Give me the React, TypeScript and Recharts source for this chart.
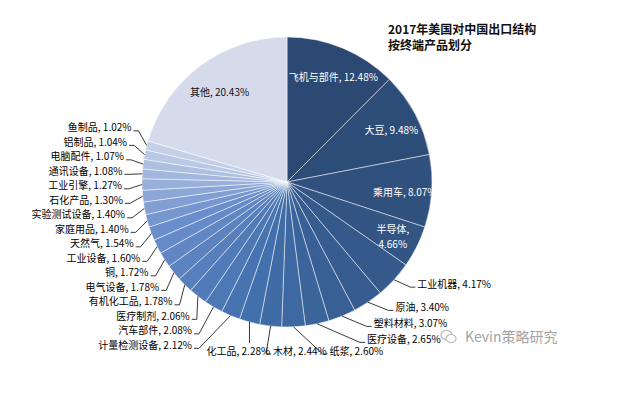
import { PieChart, Pie, Cell } from 'recharts'

const names = [
  '飞机与部件', '大豆', '乘用车', '半导体', '工业机器', '原油', '塑料材料', '医疗设备',
  '纸浆', '木材', '化工品', '计量检测设备', '汽车部件', '医疗制剂', '有机化工品', '电气设备',
  '铜', '工业设备', '天然气', '家庭用品', '实验测试设备', '石化产品', '工业引擎', '通讯设备',
  '电脑配件', '铝制品', '鱼制品', '其他',
]
const shares = [
  12.48, 9.48, 8.07, 4.66, 4.17, 3.4, 3.07, 2.65,
  2.6, 2.44, 2.28, 2.12, 2.08, 2.06, 1.78, 1.78,
  1.72, 1.6, 1.54, 1.4, 1.4, 1.3, 1.27, 1.08,
  1.07, 1.04, 1.02, 20.43,
]
const titleLines = ['2017年美国对中国出口结构', '按终端产品划分']
const watermark = 'Kevin策略研究'

const W = 637
const H = 399
const CX = 287
const CY = 182
const R = 145
const RAD = Math.PI / 180
const FONT = '"Noto Sans CJK SC", "Noto Sans", sans-serif'

const data = names.map((name, i) => ({ name, value: shares[i] }))

// slice colours: dark navy -> light steel blue, "其他" pale
const stops: [number, number[]][] = [
  [0, [43, 73, 115]],
  [10, [66, 112, 172]],
  [18, [106, 142, 203]],
  [26, [196, 208, 232]],
]
const colorAt = (i: number) => {
  if (i === names.length - 1) return 'rgb(213,219,234)'
  for (let k = 0; k < stops.length - 1; k++) {
    const [i0, c0] = stops[k]
    const [i1, c1] = stops[k + 1]
    if (i <= i1) {
      const t = (i - i0) / (i1 - i0)
      const c = c0.map((v, j) => Math.round(v + (c1[j] - v) * t))
      return `rgb(${c.join(',')})`
    }
  }
  return 'rgb(196,208,232)'
}

// label layout (angles clockwise from 12 o'clock)
const total = shares.reduce((a, b) => a + b, 0)
const mids: number[] = []
let acc = 0
shares.forEach((v) => {
  mids.push(((acc + v / 2) / total) * 360)
  acc += v
})
const pt = (a: number, r: number) => [CX + r * Math.sin(a * RAD), CY - r * Math.cos(a * RAD)]
const labelText = (i: number) => `${names[i]}, ${shares[i].toFixed(2)}%`
const textW = (s: string) =>
  [...s].reduce(
    (w, c) => w + (/[\u4e00-\u9fff]/.test(c) ? 10 : c === '%' ? 8.3 : /[0-9]/.test(c) ? 5.6 : 2.8),
    0,
  )

type Spot = {
  x: number
  y: number
  anchor: 'start' | 'middle' | 'end'
  lines: string[]
  color: string
  leader?: string
}
const spots: Spot[] = []
const inner = shares.map((v) => v >= 4.5)
const outIdx = shares.map((_, i) => i).filter((i) => !inner[i])
const right = outIdx.filter((i) => mids[i] < 172)
const bottom = outIdx.filter((i) => mids[i] >= 172 && mids[i] < 200).sort((a, b) => mids[b] - mids[a])
const lowerLeft = outIdx.filter((i) => mids[i] >= 200 && mids[i] < 270).sort((a, b) => mids[b] - mids[a])
const upperLeft = outIdx.filter((i) => mids[i] >= 270).sort((a, b) => mids[a] - mids[b])

shares.forEach((v, i) => {
  if (!inner[i]) return
  const [x, y] = pt(mids[i], R * 0.8)
  spots[i] = {
    x: x + 2,
    y: y + 2,
    anchor: 'middle',
    lines: v < 6 ? [`${names[i]},`, `${v.toFixed(2)}%`] : [labelText(i)],
    color: i === names.length - 1 ? '#111' : '#fff',
  }
})

let prev = -Infinity
right.forEach((i) => {
  const ny = CY - (R + 5) * Math.cos(mids[i] * RAD)
  const y = Math.max(ny, prev + 16)
  prev = y
  const dy = y - CY
  const x = Math.max(CX + Math.sqrt(Math.max(0, (R + 20) ** 2 - dy * dy)), CX + 80)
  const [ex, ey] = pt(mids[i], R)
  spots[i] = {
    x, y, anchor: 'start', lines: [labelText(i)], color: '#000',
    leader: `${ex},${ey} ${x - 7},${y + 4} ${x - 2},${y + 4}`,
  }
})

const leftSpot = (i: number, y: number): Spot => {
  const dy = y - CY
  const x = Math.min(CX - Math.sqrt(Math.max(0, (R + 20) ** 2 - dy * dy)), CX - 95)
  const [ex, ey] = pt(mids[i], R)
  return {
    x, y, anchor: 'end', lines: [labelText(i)], color: '#000',
    leader: `${ex},${ey} ${x + 7},${y + 4} ${x + 2},${y + 4}`,
  }
}
prev = -Infinity
lowerLeft.forEach((i) => {
  const ny = CY - (R + 18) * Math.cos(mids[i] * RAD)
  const y = Math.max(ny, prev + 14.5)
  prev = y
  spots[i] = leftSpot(i, y)
})
prev = lowerLeft.length ? spots[lowerLeft[0]].y : Infinity
upperLeft.forEach((i) => {
  const ny = CY - (R + 18) * Math.cos(mids[i] * RAD)
  const y = Math.min(ny, prev - 14.5)
  prev = y
  spots[i] = leftSpot(i, y)
})

let prevEnd = -Infinity
bottom.forEach((i) => {
  const y = CY + R + 23
  const w = textW(labelText(i))
  const nat = CX + (R + 20) * Math.sin(mids[i] * RAD)
  const start = Math.max(nat - w / 2 - 6, prevEnd + 3)
  prevEnd = start + w
  const [ex, ey] = pt(mids[i], R)
  let leader = `${ex},${ey} ${ex},${y - 7}`
  if (ex < start + 2) leader = `${ex},${ey} ${start - 7},${y + 4} ${start - 2},${y + 4}`
  else if (ex > start + w - 2) leader = `${ex},${ey} ${start + w + 7},${y + 4} ${start + w + 2},${y + 4}`
  spots[i] = { x: start, y, anchor: 'start', lines: [labelText(i)], color: '#000', leader }
})

const renderLabel = (props: { index?: number }) => {
  const s = spots[props.index ?? 0]
  if (!s) return null
  const step = 14.5
  return (
    <g key={`lbl-${props.index}`}>
      {s.leader && <polyline points={s.leader} fill="none" stroke="#222" strokeWidth={0.9} />}
      {s.lines.map((l, k) => (
        <text
          key={k}
          x={s.x}
          y={s.y - ((s.lines.length - 1) * step) / 2 + k * step}
          textAnchor={s.anchor}
          dominantBaseline="central"
          fontSize={10}
          fontFamily={FONT}
          fill={s.color}
        >
          {l}
        </text>
      ))}
    </g>
  )
}

export default function App() {
  return (
    <div style={{ position: 'absolute', left: 0, top: 0, width: W, height: H, background: '#fff' }}>
      <PieChart width={W} height={H} margin={{ top: 0, right: 0, bottom: 0, left: 0 }}>
        <Pie
          data={data}
          dataKey="value"
          nameKey="name"
          cx={CX}
          cy={CY}
          outerRadius={R}
          startAngle={90}
          endAngle={-270}
          stroke="rgba(255,255,255,0.7)"
          strokeWidth={0.7}
          label={renderLabel}
          labelLine={false}
          isAnimationActive={false}
        >
          {data.map((d, i) => (
            <Cell key={d.name} fill={colorAt(i)} />
          ))}
        </Pie>
      </PieChart>
      <div
        style={{
          position: 'absolute',
          left: 388,
          top: 21,
          fontFamily: FONT,
          fontWeight: 700,
          fontSize: 12,
          lineHeight: '16px',
          color: '#111',
          whiteSpace: 'nowrap',
        }}
      >
        {titleLines.map((t) => (
          <div key={t}>{t}</div>
        ))}
      </div>
      <div
        style={{
          position: 'absolute',
          left: 440,
          top: 326,
          display: 'flex',
          alignItems: 'center',
          gap: 8,
          fontFamily: FONT,
          fontSize: 14,
          color: '#a3a3a3',
          whiteSpace: 'nowrap',
        }}
      >
        <svg width={17} height={15}>
          <ellipse cx={6.5} cy={6} rx={5.5} ry={4.5} fill="none" stroke="#b5b5b5" strokeWidth={1.2} />
          <ellipse cx={11} cy={9.5} rx={5} ry={4} fill="#fff" stroke="#b5b5b5" strokeWidth={1.2} />
        </svg>
        <span>{watermark}</span>
      </div>
    </div>
  )
}
